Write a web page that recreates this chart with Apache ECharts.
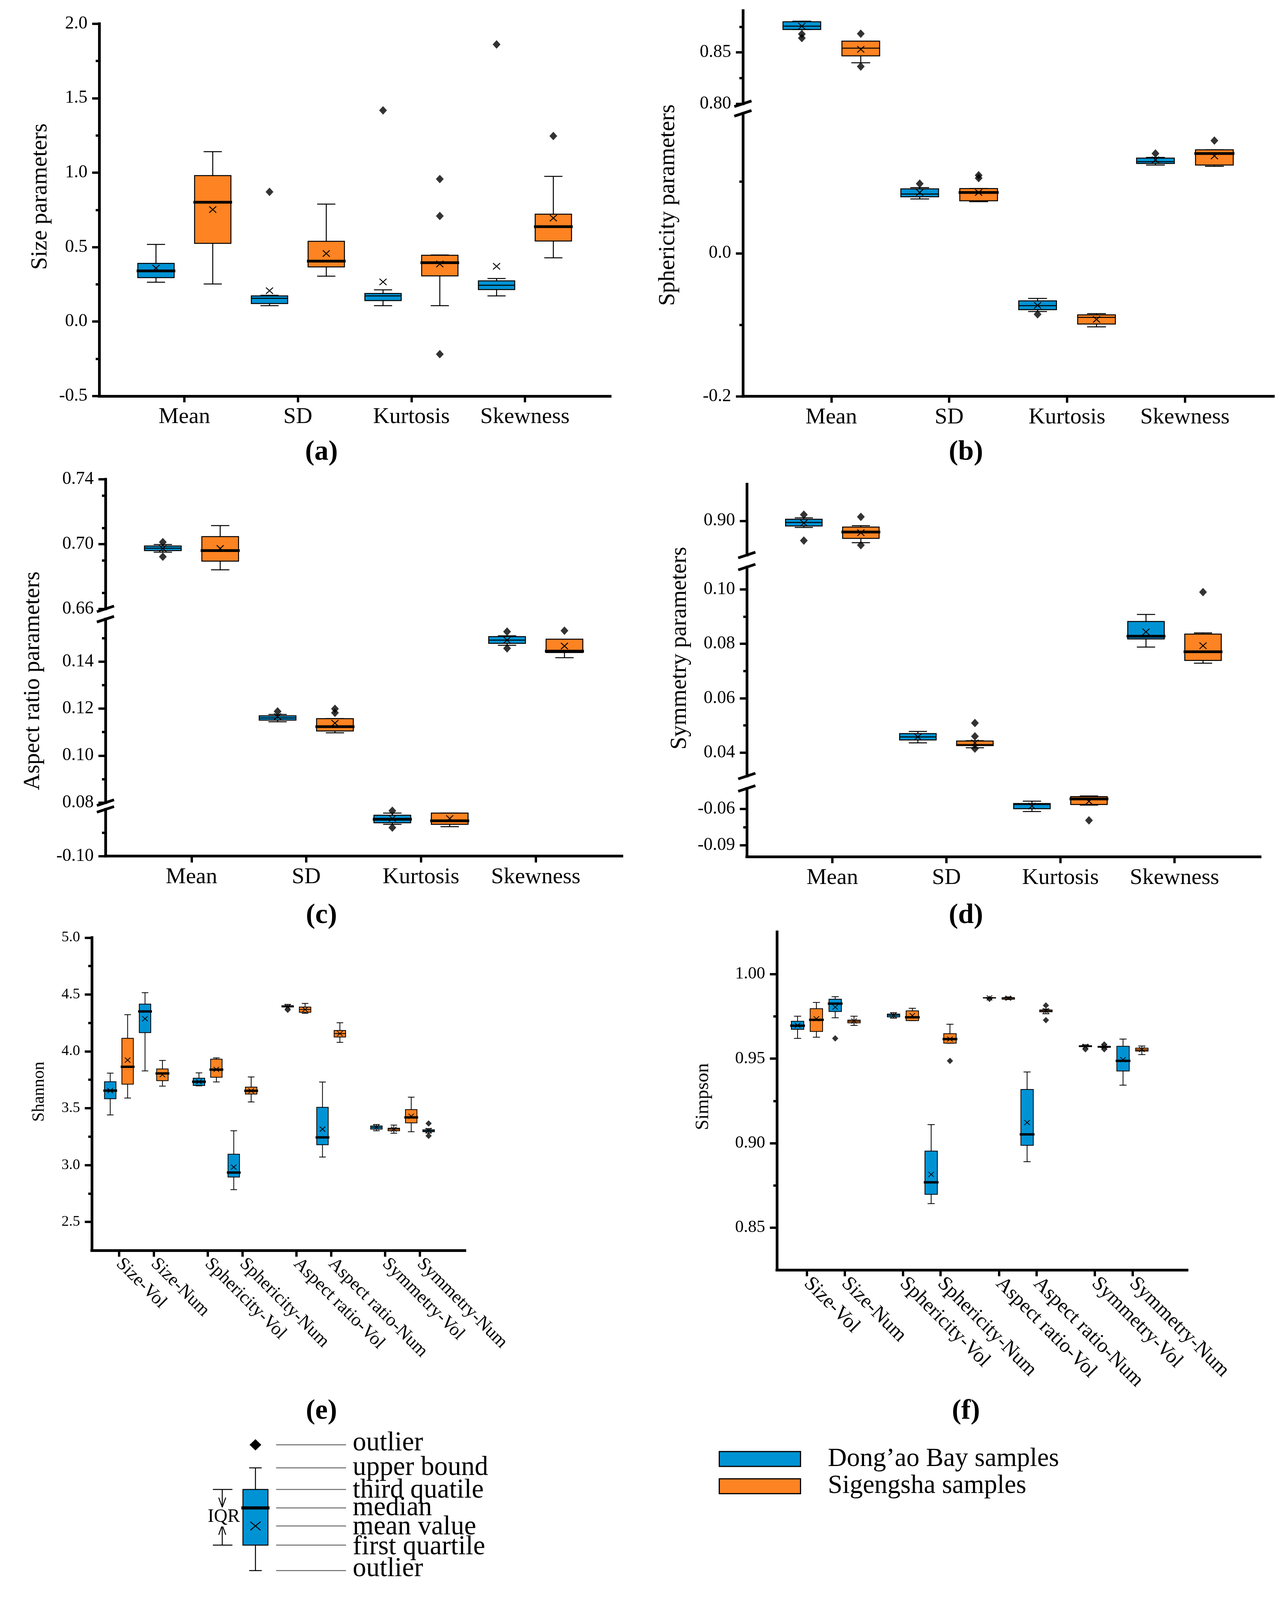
<!DOCTYPE html>
<html lang="en">
<head>
<meta charset="UTF-8">
<title>Grain shape parameters and diversity indices</title>
<script src="https://cdn.jsdelivr.net/npm/echarts@6.0.0/dist/echarts.min.js"></script>
<style>
  html, body { margin: 0; background: #fff; overflow: hidden; }
  #chart { width: 3295px; height: 4517px; }
</style>
</head>
<body>
<div id="chart"></div>
<script>
// categories
const paramGroups = ['Mean', 'SD', 'Kurtosis', 'Skewness'];
const indexGroups = ['Size-Vol', 'Size-Num', 'Sphericity-Vol', 'Sphericity-Num',
  'Aspect ratio-Vol', 'Aspect ratio-Num', 'Symmetry-Vol', 'Symmetry-Num'];
const seriesNames = ['Dong\u2019ao Bay samples', 'Sigengsha samples'];

// every box: [lower whisker, Q1, median, Q3, upper whisker, mean]
// (a) size parameters
const sizeDong = [
  [0.264, 0.295, 0.340, 0.391, 0.518, 0.359],
  [0.107, 0.121, 0.156, 0.172, 0.176, 0.207],
  [0.107, 0.141, 0.172, 0.189, 0.213, 0.266],
  [0.172, 0.215, 0.244, 0.273, 0.289, 0.371]
];
const sizeSig = [
  [0.252, 0.525, 0.801, 0.980, 1.141, 0.752],
  [0.305, 0.367, 0.406, 0.539, 0.789, 0.457],
  [0.107, 0.307, 0.395, 0.445, 0.447, 0.387],
  [0.428, 0.541, 0.637, 0.721, 0.975, 0.695]
];
// outliers: [group index, value]
const sizeDongOut = [[1, 0.871], [2, 1.418], [3, 1.861]];
const sizeSigOut = [[2, 0.957], [2, 0.709], [2, -0.219], [3, 1.246]];

// (b) sphericity parameters
const sphDong = [
  [0.8723, 0.8723, 0.8756, 0.8798, 0.8804, 0.8756],
  [0.0759, 0.0789, 0.0827, 0.0900, 0.0917, 0.0849],
  [-0.0814, -0.0789, -0.0733, -0.0665, -0.0631, -0.0729],
  [0.1232, 0.1254, 0.1279, 0.1330, 0.1339, 0.1305]
];
const sphSig = [
  [0.8399, 0.8467, 0.8542, 0.8610, 0.8610, 0.8530],
  [0.0721, 0.0733, 0.0849, 0.0904, 0.0904, 0.0849],
  [-0.1028, -0.0989, -0.0896, -0.0861, -0.0844, -0.0925],
  [0.1215, 0.1232, 0.1394, 0.1446, 0.1446, 0.1360]
];
const sphDongOut = [[0, 0.8679], [0, 0.8640], [1, 0.0972], [2, -0.0853], [3, 0.1394]];
const sphSigOut = [[0, 0.8682], [0, 0.8363], [1, 0.1090], [1, 0.1050], [3, 0.1574]];

// (c) aspect ratio parameters
const aspDong = [
  [0.6950, 0.6960, 0.6975, 0.6988, 0.6997, 0.6973],
  [0.1144, 0.1151, 0.1160, 0.1169, 0.1175, 0.1166],
  [-0.0864, -0.0857, -0.0842, -0.0825, -0.0816, -0.0839],
  [0.1469, 0.1477, 0.1491, 0.1506, 0.1509, 0.1491]
];
const aspSig = [
  [0.6841, 0.6895, 0.6960, 0.7046, 0.7114, 0.6973],
  [0.1097, 0.1105, 0.1123, 0.1157, 0.1157, 0.1138],
  [-0.0874, -0.0864, -0.0849, -0.0816, -0.0816, -0.0839],
  [0.1416, 0.1438, 0.1444, 0.1495, 0.1495, 0.1466]
];
const aspDongOut = [[0, 0.7012], [0, 0.6922], [1, 0.1188], [2, -0.0806], [2, -0.0878], [3, 0.1527], [3, 0.1456]];
const aspSigOut = [[1, 0.1199], [1, 0.1182], [3, 0.1531]];

// (d) symmetry parameters
const symDong = [
  [0.8944, 0.8956, 0.8986, 0.9013, 0.9025, 0.8981],
  [0.0436, 0.0447, 0.0458, 0.0470, 0.0478, 0.0458],
  [-0.0620, -0.0597, -0.0562, -0.0554, -0.0534, -0.0575],
  [0.0788, 0.0818, 0.0828, 0.0882, 0.0908, 0.0844]
];
const symSig = [
  [0.8815, 0.8851, 0.8905, 0.8947, 0.8959, 0.8899],
  [0.0418, 0.0426, 0.0430, 0.0443, 0.0444, 0.0436],
  [-0.0567, -0.0562, -0.0516, -0.0496, -0.0491, -0.0536],
  [0.0729, 0.0739, 0.0771, 0.0836, 0.0840, 0.0793]
];
const symDongOut = [[0, 0.9052], [0, 0.8833]];
const symSigOut = [[0, 0.9034], [0, 0.8794], [1, 0.0509], [1, 0.0460], [1, 0.0415], [2, -0.0694], [3, 0.0990]];

// (e) Shannon index
const shannonDong = [
  [3.441, 3.583, 3.655, 3.733, 3.808, 3.655],
  [3.828, 4.165, 4.351, 4.415, 4.516, 4.287],
  [3.697, 3.700, 3.733, 3.764, 3.811, 3.733],
  [2.784, 2.895, 2.934, 3.096, 3.302, 2.982],
  [4.390, 4.390, 4.396, 4.402, 4.413, 4.392],
  [3.071, 3.179, 3.243, 3.508, 3.730, 3.316],
  [3.302, 3.316, 3.332, 3.344, 3.357, 3.332],
  [3.282, 3.293, 3.302, 3.310, 3.321, 3.305]
];
const shannonSig = [
  [3.589, 3.711, 3.864, 4.115, 4.323, 3.923],
  [3.694, 3.742, 3.806, 3.845, 3.920, 3.795],
  [3.731, 3.772, 3.839, 3.931, 3.942, 3.842],
  [3.555, 3.625, 3.653, 3.686, 3.775, 3.653],
  [4.335, 4.343, 4.368, 4.390, 4.421, 4.368],
  [4.079, 4.126, 4.156, 4.184, 4.251, 4.156],
  [3.280, 3.302, 3.316, 3.324, 3.352, 3.316],
  [3.293, 3.371, 3.419, 3.488, 3.597, 3.430]
];
const shannonDongOut = [[4, 4.365], [7, 3.366], [7, 3.257]];
const shannonSigOut = [];

// (f) Simpson index
const simpsonDong = [
  [0.9620, 0.9674, 0.9695, 0.9721, 0.9751, 0.9697],
  [0.9742, 0.9779, 0.9826, 0.9852, 0.9867, 0.9805],
  [0.9740, 0.9747, 0.9757, 0.9764, 0.9772, 0.9757],
  [0.8642, 0.8697, 0.8768, 0.8953, 0.9110, 0.8815],
  [0.9859, 0.9859, 0.9861, 0.9861, 0.9862, 0.9860],
  [0.8890, 0.8987, 0.9052, 0.9318, 0.9421, 0.9122],
  [0.9571, 0.9571, 0.9573, 0.9577, 0.9582, 0.9573],
  [0.9343, 0.9427, 0.9487, 0.9573, 0.9616, 0.9494]
];
const simpsonSig = [
  [0.9627, 0.9661, 0.9730, 0.9796, 0.9833, 0.9736],
  [0.9697, 0.9712, 0.9721, 0.9728, 0.9751, 0.9723],
  [0.9725, 0.9725, 0.9745, 0.9783, 0.9798, 0.9755],
  [0.9592, 0.9592, 0.9616, 0.9648, 0.9704, 0.9616],
  [0.9850, 0.9852, 0.9858, 0.9861, 0.9865, 0.9858],
  [0.9766, 0.9777, 0.9783, 0.9788, 0.9794, 0.9783],
  [0.9565, 0.9567, 0.9569, 0.9573, 0.9574, 0.9570],
  [0.9524, 0.9545, 0.9552, 0.9562, 0.9575, 0.9554]
];
const simpsonDongOut = [[1, 0.9620], [4, 0.9854], [6, 0.9556]];
const simpsonSigOut = [[3, 0.9487], [5, 0.9815], [5, 0.9728], [6, 0.9584], [6, 0.9556]];

// which medians are drawn heavy (style only)
const heavyMedian = {
  a: [[1, 0, 0, 0], [1, 1, 1, 1]],
  b: [[0, 0, 0, 0], [0, 1, 0, 1]],
  c: [[0, 0, 1, 0], [1, 1, 1, 1]],
  d: [[0, 0, 0, 1], [1, 0, 1, 1]],
  e: [[1, 1, 1, 1, 0, 1, 0, 0], [1, 1, 1, 1, 0, 0, 0, 1]],
  f: [[1, 1, 0, 1, 0, 1, 0, 1], [1, 0, 1, 1, 0, 0, 0, 0]]
};

// the layout below is measured on a 3295 x 4517 page; squeeze it vertically
// when the visible window is shorter than that
const PAGE_H = 4517;
const viewH = window.innerHeight || PAGE_H;
const SY = Math.min(1, viewH / PAGE_H);
const Y = v => v * SY;
const FS = v => Math.round(v * Math.sqrt(SY));
document.getElementById('chart').style.height = Math.round(PAGE_H * SY) + 'px';

const FONT = "'Liberation Serif', 'Times New Roman', serif";
const BLUE = '#0093d4';
const ORANGE = '#fe8322';
const STYLE_TOP = { boxW: 0.32, capW: 0.16, lw: 2.5, heavy: 7, mean: 9, dia: [20, Y(24)] };
const STYLE_LOW = { boxW: 0.33, capW: 0.19, lw: 2, heavy: 6, mean: 7, dia: [16, Y(18)] };
const paramPos = [1, 2, 3, 4];
const indexPos = [1, 2, 3.55, 4.55, 6.1, 7.1, 8.65, 9.65];
const sides4 = [[-1, -1, -1, -1], [1, 1, 1, 1]];

const panels = [
  { tag: '(a)', lx: 823, ly: 1278, yName: 'Size parameters', nx: 103, ny: 555, nameFont: 62,
    left: 254, width: 1308, xMin: 0.25, xMax: 4.75, pos: paramPos, groups: paramGroups, sides: sides4,
    boxes: [sizeDong, sizeSig], outs: [sizeDongOut, sizeSigOut], heavy: heavyMedian.a,
    st: STYLE_TOP, tickFont: 48, xFont: 61, rotate: 0, xMargin: 28,
    segs: [{ top: 67, height: 1051, min: -0.5, max: 2.0, labels: [-0.5, 0, 0.5, 1, 1.5, 2], minor: [-0.25, 0.25, 0.75, 1.25, 1.75], dec: 1 }] },
  { tag: '(b)', lx: 2473, ly: 1278, yName: 'Sphericity parameters', nx: 1710, ny: 579, nameFont: 62,
    left: 1902, width: 1358, xMin: 0.25, xMax: 4.75, pos: paramPos, groups: paramGroups, sides: sides4,
    boxes: [sphDong, sphSig], outs: [sphDongOut, sphSigOut], heavy: heavyMedian.b,
    st: STYLE_TOP, tickFont: 48, xFont: 61, rotate: 0, xMargin: 28,
    segs: [
      { top: 30, height: 263, min: 0.80, max: 0.8907, labels: [0.80, 0.85], minor: [0.825, 0.875], dec: 2 },
      { top: 320, height: 799, min: -0.2, max: 0.1955, labels: [-0.2, 0], minor: [-0.1, 0.1], dec: 1 }
    ] },
  { tag: '(c)', lx: 823, ly: 2585, yName: 'Aspect ratio parameters', nx: 84, ny: 1922, nameFont: 62,
    left: 270, width: 1322, xMin: 0.25, xMax: 4.75, pos: paramPos, groups: paramGroups, sides: sides4,
    boxes: [aspDong, aspSig], outs: [aspDongOut, aspSigOut], heavy: heavyMedian.c,
    st: STYLE_TOP, tickFont: 48, xFont: 61, rotate: 0, xMargin: 28,
    segs: [
      { top: 1353, height: 366, min: 0.66, max: 0.74, labels: [0.66, 0.70, 0.74], minor: [0.67, 0.69, 0.71, 0.73], dec: 2 },
      { top: 1748, height: 518, min: 0.08, max: 0.158, labels: [0.08, 0.10, 0.12, 0.14], minor: [0.09, 0.11, 0.13, 0.15], dec: 2 },
      { top: 2285, height: 132, min: -0.10, max: -0.08, labels: [-0.10], minor: [-0.09], dec: 2 }
    ] },
  { tag: '(d)', lx: 2473, ly: 2585, yName: 'Symmetry parameters', nx: 1740, ny: 1830, nameFont: 62,
    left: 1912, width: 1314, xMin: 0.25, xMax: 4.75, pos: paramPos, groups: paramGroups, sides: sides4,
    boxes: [symDong, symSig], outs: [symDongOut, symSigOut], heavy: heavyMedian.d,
    st: STYLE_TOP, tickFont: 48, xFont: 61, rotate: 0, xMargin: 28,
    segs: [
      { top: 1367, height: 200, min: 0.871, max: 0.931, labels: [0.90], minor: [], dec: 2 },
      { top: 1601, height: 590, min: 0.0314, max: 0.1082, labels: [0.04, 0.06, 0.08, 0.10], minor: [0.05, 0.07, 0.09], dec: 2 },
      { top: 2226, height: 193, min: -0.0997, max: -0.0429, labels: [-0.09, -0.06], minor: [-0.075], dec: 2 }
    ] },
  { tag: '(e)', lx: 823, ly: 3985, yName: 'Shannon', nx: 100, ny: 3082, nameFont: 46,
    left: 235, width: 955, xMin: 0.22, xMax: 10.94, pos: indexPos, groups: indexGroups,
    sides: [[-1, -1, -1, -1, -1, -1, -1, 1], [1, 1, 1, 1, 1, 1, 1, -1]],
    boxes: [shannonDong, shannonSig], outs: [shannonDongOut, shannonSigOut], heavy: heavyMedian.e,
    st: STYLE_LOW, tickFont: 40, xFont: 49, rotate: -45, xMargin: 30,
    segs: [{ top: 2647, height: 883, min: 2.25, max: 5.0, labels: [2.5, 3.0, 3.5, 4.0, 4.5, 5.0], minor: [2.75, 3.25, 3.75, 4.25, 4.75], dec: 1 }] },
  { tag: '(f)', lx: 2473, ly: 3985, yName: 'Simpson', nx: 1800, ny: 3096, nameFont: 51,
    left: 1989, width: 1050, xMin: 0.2, xMax: 11.1, pos: indexPos, groups: indexGroups,
    sides: [[-1, -1, -1, -1, -1, -1, -1, -1], [1, 1, 1, 1, 1, 1, 1, 1]],
    boxes: [simpsonDong, simpsonSig], outs: [simpsonDongOut, simpsonSigOut], heavy: heavyMedian.f,
    st: STYLE_LOW, tickFont: 46, xFont: 55, rotate: -45, xMargin: 30,
    segs: [{ top: 2631, height: 954, min: 0.825, max: 1.025, labels: [0.85, 0.90, 0.95, 1.00], minor: [0.875, 0.925, 0.975], dec: 2 }] }
];

function nearest(list, v) {
  let best = 0;
  list.forEach((p, i) => { if (Math.abs(p - v) < Math.abs(list[best] - v)) best = i; });
  return best;
}

function boxRenderer(st) {
  return function (params, api) {
    const x = api.value(0);
    const y = i => api.coord([x, api.value(i)])[1];
    const cx = api.coord([x, api.value(3)])[0];
    const w = api.coord([x + st.boxW / 2, 0])[0] - api.coord([x - st.boxW / 2, 0])[0];
    const cw = api.coord([x + st.capW / 2, 0])[0] - api.coord([x - st.capW / 2, 0])[0];
    const low = y(1), q1 = y(2), med = y(3), q3 = y(4), high = y(5), mean = y(6);
    const heavy = api.value(7) === 1;
    const m = st.mean, mh = st.mean * SY;
    const line = (x1, y1, x2, y2, lw) => ({
      type: 'line', shape: { x1, y1, x2, y2 }, style: { stroke: '#000', lineWidth: lw || st.lw }
    });
    return {
      type: 'group',
      children: [
        line(cx, high, cx, q3), line(cx - cw / 2, high, cx + cw / 2, high),
        line(cx, q1, cx, low), line(cx - cw / 2, low, cx + cw / 2, low),
        { type: 'rect', shape: { x: cx - w / 2, y: q3, width: w, height: q1 - q3 },
          style: { fill: api.visual('color'), stroke: '#000', lineWidth: st.lw } },
        heavy ? line(cx - w / 2 - 3, med, cx + w / 2 + 3, med, st.heavy) : line(cx - w / 2, med, cx + w / 2, med),
        line(cx - m, mean - mh, cx + m, mean + mh, st.lw * 0.9),
        line(cx - m, mean + mh, cx + m, mean - mh, st.lw * 0.9)
      ]
    };
  };
}

const grids = [], xAxes = [], yAxes = [], series = [], graphics = [];
const black = { color: '#000' };

panels.forEach(p => {
  p.segs.forEach((s, si) => {
    const gi = grids.length;
    const last = si === p.segs.length - 1;
    const top = Y(s.top), height = Y(s.height);
    grids.push({ left: p.left, top, width: p.width, height, containLabel: false, outerBoundsMode: 'none' });
    xAxes.push({
      gridIndex: gi, type: 'value', min: p.xMin, max: p.xMax, position: 'bottom',
      axisLine: { show: last, onZero: false, lineStyle: { color: '#000', width: 7, cap: 'square' } },
      axisTick: { show: last, customValues: p.pos, length: Y(18), lineStyle: { color: '#000', width: 6 } },
      axisLabel: {
        show: last, customValues: p.pos, rotate: p.rotate, margin: Y(p.xMargin),
        fontSize: FS(p.xFont), fontFamily: FONT, color: '#000',
        formatter: v => p.groups[nearest(p.pos, v)]
      },
      splitLine: { show: false }
    });
    const yi = yAxes.length;
    yAxes.push({
      gridIndex: gi, type: 'value', min: s.min, max: s.max, position: 'left',
      axisLine: { show: true, onZero: false, lineStyle: { color: '#000', width: 7, cap: 'square' } },
      axisTick: { show: true, customValues: s.labels, length: 18, lineStyle: { color: '#000', width: 6 } },
      axisLabel: {
        show: true, customValues: s.labels, margin: 30,
        fontSize: FS(p.tickFont), fontFamily: FONT, color: '#000',
        formatter: v => v.toFixed(s.dec)
      },
      splitLine: { show: false }
    });
    yAxes.push({
      gridIndex: gi, type: 'value', min: s.min, max: s.max, position: 'left',
      axisLine: { show: false, onZero: false },
      axisTick: s.minor.length
        ? { show: true, customValues: s.minor, length: 9, lineStyle: { color: '#000', width: 6 } }
        : { show: false },
      axisLabel: { show: false },
      splitLine: { show: false }
    });

    [0, 1].forEach(k => {
      const items = p.boxes[k]
        .map((b, g) => [p.pos[g] + p.sides[k][g] * 0.25].concat(b, [p.heavy[k][g]]))
        .filter(it => it[3] >= s.min && it[3] <= s.max);
      series.push({
        type: 'custom', name: seriesNames[k], xAxisIndex: gi, yAxisIndex: yi,
        clip: true, silent: true, itemStyle: { color: k ? ORANGE : BLUE },
        renderItem: boxRenderer(p.st), data: items
      });
      const outs = p.outs[k]
        .filter(o => o[1] >= s.min && o[1] <= s.max)
        .map(o => [p.pos[o[0]] + p.sides[k][o[0]] * 0.25, o[1]]);
      if (outs.length) {
        series.push({
          type: 'scatter', xAxisIndex: gi, yAxisIndex: yi, silent: true,
          symbol: 'diamond', symbolSize: p.st.dia, itemStyle: black, data: outs
        });
      }
    });

    // break marks between stacked segments
    if (p.segs.length > 1) {
      const marks = [];
      if (si > 0) marks.push(top);
      if (!last) marks.push(top + height);
      marks.forEach(yb => graphics.push({
        type: 'line', shape: { x1: p.left - 22, y1: yb + Y(8), x2: p.left + 22, y2: yb - Y(8) },
        style: { stroke: '#000', lineWidth: 7 }
      }));
    }
  });

  graphics.push({
    type: 'text', x: p.nx, y: Y(p.ny), rotation: Math.PI / 2,
    style: { text: p.yName, fontSize: FS(p.nameFont), fontFamily: FONT, fill: '#000', align: 'center', verticalAlign: 'middle' }
  });
  graphics.push({
    type: 'text', x: p.lx, y: Y(p.ly),
    style: { text: p.tag, fontSize: FS(76), fontWeight: 'bold', fontFamily: FONT, fill: '#000', align: 'center', verticalAlign: 'middle' }
  });
});

// explanatory box key
const keyX = 654;
const keyLines = [4079, 4144, 4205, 4257, 4308, 4362, 4434].map(Y);
const keyText = ['outlier', 'upper bound', 'third quatile', 'median', 'mean value', 'first quartile', 'outlier'];
const keyTextY = [4075, 4144, 4208, 4258, 4312, 4368, 4430].map(Y);
const seg = (x1, y1, x2, y2, lw, color) => ({
  type: 'line', shape: { x1, y1, x2, y2 }, style: { stroke: color || '#000', lineWidth: lw || 2.5 }
});
graphics.push(
  { type: 'polygon', shape: { points: [[keyX, keyLines[0] - Y(16)], [keyX + 15, keyLines[0]], [keyX, keyLines[0] + Y(16)], [keyX - 15, keyLines[0]]] }, style: { fill: '#000' } },
  seg(keyX, keyLines[1], keyX, keyLines[2]), seg(keyX - 16, keyLines[1], keyX + 16, keyLines[1]),
  seg(keyX, keyLines[5], keyX, keyLines[6]), seg(keyX - 16, keyLines[6], keyX + 16, keyLines[6]),
  { type: 'rect', shape: { x: 622, y: keyLines[2], width: 64, height: keyLines[5] - keyLines[2] }, style: { fill: BLUE, stroke: '#000', lineWidth: 2.5 } },
  seg(618, keyLines[3], 690, keyLines[3], 8),
  seg(keyX - 13, keyLines[4] - Y(12), keyX + 13, keyLines[4] + Y(12), 2.5),
  seg(keyX - 13, keyLines[4] + Y(12), keyX + 13, keyLines[4] - Y(12), 2.5),
  seg(545, keyLines[2], 595, keyLines[2]), seg(545, keyLines[5], 595, keyLines[5]),
  seg(569, keyLines[2], 569, Y(4255)), seg(560, Y(4228), 569, Y(4255)), seg(578, Y(4228), 569, Y(4255)),
  seg(569, keyLines[5], 569, Y(4306)), seg(560, Y(4333), 569, Y(4306)), seg(578, Y(4333), 569, Y(4306)),
  { type: 'text', x: 573, y: Y(4283), style: { text: 'IQR', fontSize: FS(50), fontFamily: FONT, fill: '#000', align: 'center', verticalAlign: 'middle', backgroundColor: '#fff' } }
);
keyLines.forEach((ly, i) => {
  graphics.push(seg(707, ly, 886, ly, 2.5, '#6b6b6b'));
  graphics.push({
    type: 'text', x: 903, y: keyTextY[i],
    style: { text: keyText[i], fontSize: FS(72), fontFamily: FONT, fill: '#000', align: 'left', verticalAlign: 'middle' }
  });
});

const chart = echarts.init(document.getElementById('chart'), null, { renderer: 'canvas' });
chart.setOption({
  animation: false,
  backgroundColor: '#fff',
  textStyle: { fontFamily: FONT },
  grid: grids,
  xAxis: xAxes,
  yAxis: yAxes,
  legend: {
    data: seriesNames, orient: 'vertical', left: 1840, top: Y(4082), padding: 0,
    icon: 'rect', itemWidth: 208, itemHeight: Y(42), itemGap: Y(3), selectedMode: false,
    itemStyle: { borderColor: '#000', borderWidth: 3 },
    textStyle: { fontSize: FS(70), lineHeight: Y(70), fontFamily: FONT, color: '#000', padding: [0, 0, 0, 65] }
  },
  series: series,
  graphic: graphics
});
</script>
</body>
</html>
